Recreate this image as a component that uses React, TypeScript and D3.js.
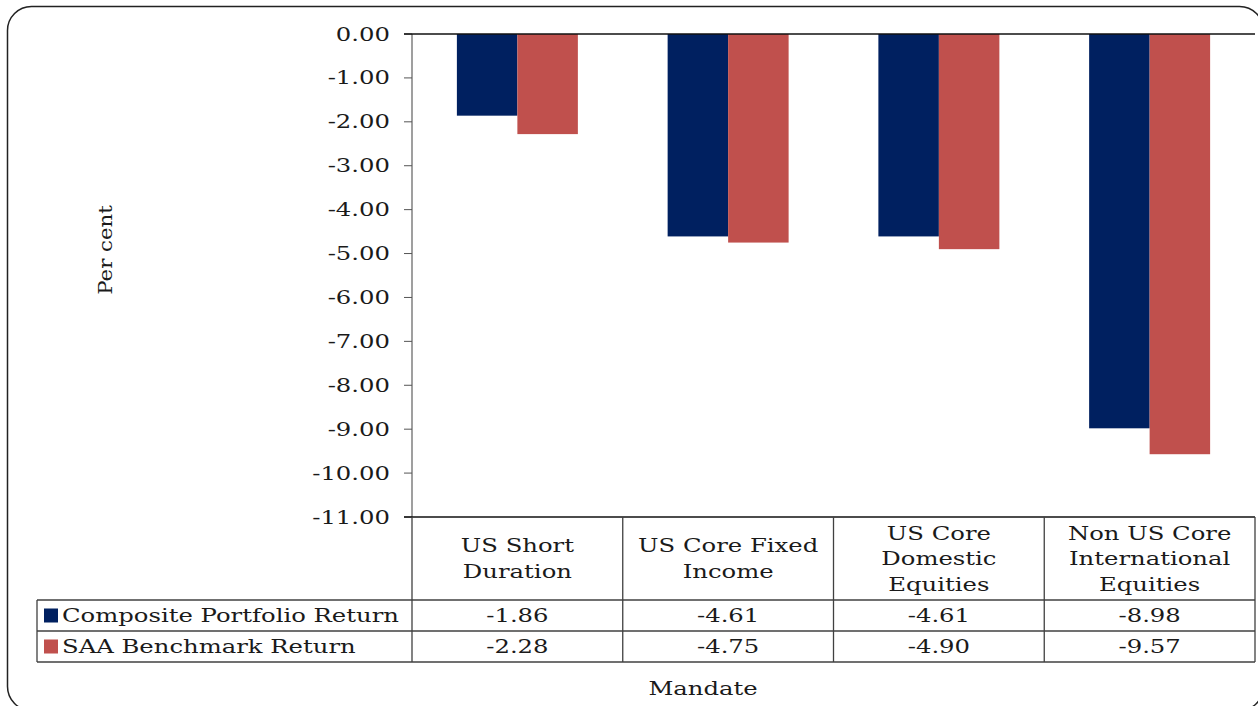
import React from "react";
import * as d3 from "d3";

// Mandates (header lines separated by "|")
const categories = [
  "US Short|Duration",
  "US Core Fixed|Income",
  "US Core|Domestic|Equities",
  "Non US Core|International|Equities",
];
const seriesNames = ["Composite Portfolio Return", "SAA Benchmark Return"];
const compositeReturn = [-1.86, -4.61, -4.61, -8.98];
const benchmarkReturn = [-2.28, -4.75, -4.9, -9.57];
const seriesColors = ["#002060", "#C0504D"];
const yTicks = [0, -1, -2, -3, -4, -5, -6, -7, -8, -9, -10, -11];

const W = 1258;
const H = 706;
const FONT = "'DejaVu Serif', 'Liberation Serif', serif";
const FS = 19;
const STRETCH = 1.28;

type LabelProps = {
  x: number;
  y: number;
  anchor?: "start" | "middle" | "end";
  children: React.ReactNode;
  sx?: number;
};

// Wide serif label: glyphs stretched horizontally around the anchor point
function Label({ x, y, anchor = "start", children, sx = STRETCH }: LabelProps) {
  return (
    <g transform={`translate(${x},${y}) scale(${sx},1)`}>
      <text
        x={0}
        y={0}
        textAnchor={anchor}
        dominantBaseline="central"
        fontSize={FS}
        fill="#1a1a1a"
      >
        {children}
      </text>
    </g>
  );
}

export default function App() {
  const plotLeft = 412;
  const plotRight = 1255;
  const plotTop = 34;
  const plotBottom = 517;
  const headerBottom = 600;
  const rowH = 31;
  const tableLeft = 37;

  const y = d3.scaleLinear().domain([-11, 0]).range([plotBottom, plotTop]);
  const x = d3.scaleBand<string>().domain(categories).range([plotLeft, plotRight]);
  const xs = d3
    .scaleBand<string>()
    .domain(seriesNames)
    .range([0, x.bandwidth()])
    .paddingInner(0)
    .paddingOuter(0.742);

  const values = [compositeReturn, benchmarkReturn];
  const lineColor = "#404040";

  return (
    <svg
      width={W}
      height={H}
      style={{ position: "absolute", left: 0, top: 0, background: "#fff" }}
      fontFamily={FONT}
    >
      <rect x={0} y={0} width={W} height={H} fill="#fff" />
      {/* outer frame */}
      <rect
        x={7.5}
        y={6.5}
        width={1256}
        height={704}
        rx={24}
        ry={24}
        fill="none"
        stroke="#222"
        strokeWidth={1.5}
      />

      {/* bars */}
      {seriesNames.map((s, si) =>
        categories.map((c, ci) => {
          const v = values[si][ci];
          const x0 = (x(c) as number) + (xs(s) as number);
          return (
            <rect
              key={s + c}
              x={x0}
              y={y(0)}
              width={xs.bandwidth()}
              height={y(v) - y(0)}
              fill={seriesColors[si]}
            />
          );
        })
      )}

      {/* y axis */}
      <line x1={plotLeft} x2={plotLeft} y1={plotTop} y2={plotBottom} stroke="#7f7f7f" strokeWidth={1.5} />
      {yTicks.map((t) => (
        <g key={t}>
          <line x1={plotLeft - 8} x2={plotLeft} y1={y(t)} y2={y(t)} stroke="#555" strokeWidth={1} />
          <Label x={390} y={y(t)} anchor="end">
            {t.toFixed(2)}
          </Label>
        </g>
      ))}
      {/* zero line */}
      <line x1={plotLeft - 8} x2={plotRight} y1={y(0)} y2={y(0)} stroke="#111" strokeWidth={1.5} />

      {/* data table */}
      <g stroke={lineColor} strokeWidth={1.3} fill="none">
        <line x1={plotLeft - 8} x2={plotRight} y1={plotBottom} y2={plotBottom} stroke="#111" />
        <line x1={tableLeft} x2={plotRight} y1={headerBottom} y2={headerBottom} />
        <line x1={tableLeft} x2={plotRight} y1={headerBottom + rowH} y2={headerBottom + rowH} />
        <line x1={tableLeft} x2={plotRight} y1={headerBottom + 2 * rowH} y2={headerBottom + 2 * rowH} />
        <line x1={tableLeft} x2={tableLeft} y1={headerBottom} y2={headerBottom + 2 * rowH} />
        <line x1={plotLeft} x2={plotLeft} y1={plotBottom} y2={headerBottom + 2 * rowH} />
        {categories.map((c) => (
          <line
            key={c}
            x1={(x(c) as number) + x.bandwidth()}
            x2={(x(c) as number) + x.bandwidth()}
            y1={plotBottom}
            y2={headerBottom + 2 * rowH}
          />
        ))}
      </g>

      {/* header labels */}
      {categories.map((c) => {
        const lines = c.split("|");
        const cx = (x(c) as number) + x.bandwidth() / 2;
        const cy = (plotBottom + headerBottom) / 2;
        const lh = 25.5;
        return (
          <g key={c}>
            {lines.map((l, i) => (
              <Label key={i} x={cx} y={cy + (i - (lines.length - 1) / 2) * lh} anchor="middle">
                {l}
              </Label>
            ))}
          </g>
        );
      })}

      {/* rows */}
      {seriesNames.map((s, si) => {
        const cy = headerBottom + rowH * si + rowH / 2;
        return (
          <g key={s}>
            <rect x={44} y={cy - 7} width={14} height={14} fill={seriesColors[si]} />
            <Label x={62} y={cy}>
              {s}
            </Label>
            {categories.map((c, ci) => (
              <Label key={c} x={(x(c) as number) + x.bandwidth() / 2} y={cy} anchor="middle">
                {values[si][ci].toFixed(2)}
              </Label>
            ))}
          </g>
        );
      })}

      {/* axis titles */}
      <g transform="translate(105,250) rotate(-90)">
        <Label x={0} y={0} anchor="middle" sx={1.12}>
          Per cent
        </Label>
      </g>
      <Label x={703} y={688} anchor="middle">
        Mandate
      </Label>
    </svg>
  );
}
